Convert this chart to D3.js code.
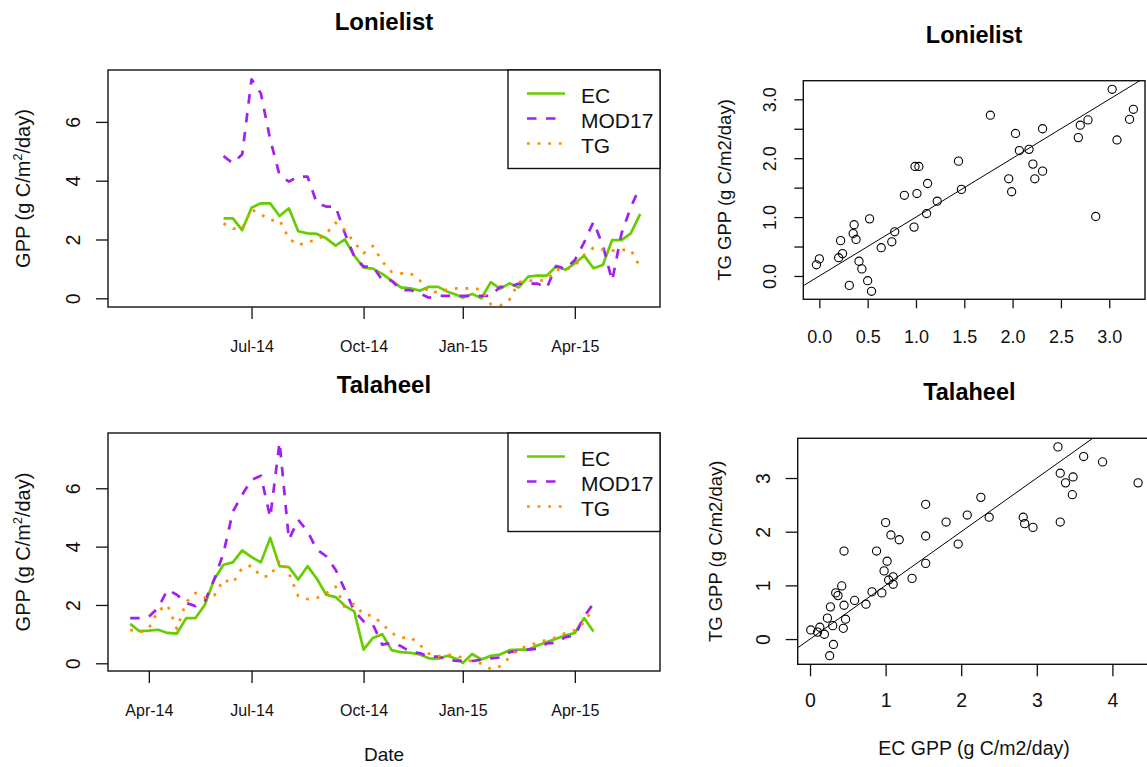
<!DOCTYPE html>
<html>
<head>
<meta charset="utf-8">
<script src="https://cdn.jsdelivr.net/npm/d3@7"></script>
<style>
  body { margin: 0; background: #fff; }
  svg { display: block; }
</style>
</head>
<body>
<script>
// ---- data ----
// 8-day composite dates
let lonDates = ["2014-06-10","2014-06-18","2014-06-26","2014-07-04","2014-07-12","2014-07-20","2014-07-28",
  "2014-08-05","2014-08-13","2014-08-21","2014-08-29","2014-09-06","2014-09-14","2014-09-22","2014-09-30",
  "2014-10-08","2014-10-16","2014-10-24","2014-11-01","2014-11-09","2014-11-17","2014-11-25","2014-12-03",
  "2014-12-11","2014-12-19","2014-12-27","2015-01-01","2015-01-09","2015-01-17","2015-01-25","2015-02-02",
  "2015-02-10","2015-02-18","2015-02-26","2015-03-06","2015-03-14","2015-03-22","2015-03-30","2015-04-07",
  "2015-04-15","2015-04-23","2015-05-01","2015-05-09","2015-05-17","2015-05-25","2015-06-02"];
let lonEC = [2.72,2.72,2.32,3.08,3.23,3.23,2.80,3.06,2.28,2.21,2.19,2.04,1.79,2.00,1.45,1.04,1.01,0.83,0.60,
  0.37,0.34,0.26,0.39,0.39,0.22,0.11,0.02,0.15,0.00,0.55,0.32,0.51,0.37,0.74,0.77,0.77,1.08,0.97,1.19,1.45,
  1.02,1.13,1.98,1.98,2.21,2.87];
let lonMOD17 = [4.84,4.59,4.90,7.45,6.97,5.40,4.19,3.97,4.14,4.14,3.23,3.12,3.12,2.21,1.42,1.08,1.08,0.62,0.60,
  0.28,0.28,0.17,0.02,0.08,0.08,0.08,0.08,0.08,0.08,0.08,0.39,0.39,0.50,0.50,0.50,0.35,1.10,1.00,1.30,1.90,
  2.60,1.80,0.60,2.20,3.10,3.80];
let lonTG = [2.55,2.37,2.38,3.02,2.85,2.66,2.66,2.04,1.80,1.93,1.97,2.20,2.57,2.32,1.90,1.53,1.78,1.25,0.90,
  0.85,0.85,0.62,0.19,0.22,0.30,0.34,0.34,0.34,0.30,-0.20,-0.25,-0.05,0.55,0.60,0.60,0.62,0.97,0.97,1.10,
  1.48,1.72,1.65,1.62,1.65,1.65,1.05];

let talDates = ["2014-03-22","2014-03-30","2014-04-07","2014-04-15","2014-04-23","2014-05-01","2014-05-09",
  "2014-05-17","2014-05-25","2014-06-02","2014-06-10","2014-06-18","2014-06-26","2014-07-04","2014-07-12",
  "2014-07-20","2014-07-28","2014-08-05","2014-08-13","2014-08-21","2014-08-29","2014-09-06","2014-09-14",
  "2014-09-22","2014-09-30","2014-10-08","2014-10-16","2014-10-24","2014-11-01","2014-11-09","2014-11-17",
  "2014-11-25","2014-12-03","2014-12-11","2014-12-19","2014-12-27","2015-01-01","2015-01-09","2015-01-17",
  "2015-01-25","2015-02-02","2015-02-10","2015-02-18","2015-02-26","2015-03-06","2015-03-14","2015-03-22",
  "2015-03-30","2015-04-07","2015-04-15","2015-04-23"];
let talEC = [1.35,1.10,1.12,1.15,1.04,1.02,1.55,1.55,2.01,2.87,3.38,3.46,3.87,3.64,3.46,4.30,3.33,3.30,2.87,
  3.33,2.90,2.35,2.27,1.97,1.78,0.47,0.87,1.00,0.45,0.38,0.36,0.30,0.17,0.16,0.26,0.15,0.01,0.32,0.13,0.26,
  0.30,0.45,0.47,0.47,0.61,0.73,0.84,0.96,1.04,1.55,1.09];
let talMOD17 = [1.55,1.55,1.60,1.90,2.52,2.35,2.07,1.96,2.13,2.87,3.78,5.20,5.78,6.29,6.43,5.00,7.58,4.24,4.92,
  4.52,3.90,3.67,3.21,2.52,1.80,1.44,1.33,0.64,0.70,0.59,0.40,0.35,0.23,0.23,0.12,0.08,0.08,0.08,0.12,0.17,
  0.20,0.38,0.42,0.47,0.50,0.68,0.71,0.90,0.95,1.60,2.05];
let talTG = [1.15,1.05,1.20,1.80,2.00,1.18,2.10,2.41,2.25,2.32,2.87,2.75,3.27,3.35,2.98,2.98,3.55,3.10,2.30,
  2.20,2.24,2.40,2.63,1.90,2.04,1.67,1.63,1.35,1.04,0.87,0.90,0.64,0.33,0.24,0.29,0.26,0.18,0.06,-0.01,-0.20,
  -0.10,0.20,0.51,0.59,0.71,0.80,0.89,1.04,1.13,1.40,1.90];

let seriesNames = ["EC", "MOD17", "TG"];
let lonDateTicks = ["2014-07-04","2014-10-08","2015-01-01","2015-04-07"];
let talDateTicks = ["2014-04-07","2014-07-04","2014-10-08","2015-01-01","2015-04-07"];

// scatter: EC GPP vs TG GPP
let lonScatEC = [-0.03,0.00,0.20,0.24,0.22,0.31,0.35,0.36,0.38,0.41,0.44,0.50,0.52,0.54,0.64,0.75,0.78,0.88,
  0.98,1.01,0.99,1.03,1.11,1.12,1.22,1.44,1.47,1.77,1.96,1.99,2.03,2.07,2.17,2.21,2.23,2.31,2.31,2.68,2.70,
  2.78,2.86,3.03,3.08,3.21,3.25];
let lonScatTG = [0.19,0.29,0.31,0.38,0.60,-0.16,0.72,0.87,0.62,0.25,0.12,-0.08,0.97,-0.26,0.48,0.58,0.75,1.37,
  0.83,1.40,1.86,1.86,1.06,1.57,1.27,1.95,1.47,2.73,1.65,1.43,2.42,2.13,2.15,1.90,1.65,1.78,2.50,2.35,2.56,
  2.65,1.01,3.17,2.31,2.66,2.83];
let talScatEC = [0.01,0.10,0.13,0.19,0.23,0.26,0.27,0.30,0.31,0.34,0.37,0.42,0.44,0.45,0.47,0.45,0.59,0.74,
  0.82,0.88,0.95,0.98,1.00,1.02,1.04,1.07,1.10,1.10,1.18,1.35,1.53,1.53,1.53,1.80,1.96,2.08,2.26,2.37,2.82,
  2.84,2.95,3.28,3.31,3.31,3.38,3.48,3.47,3.62,3.87,4.34];
let talScatTG = [0.17,0.13,0.22,0.09,0.39,-0.31,0.60,0.25,-0.10,0.86,0.81,0.99,0.20,0.63,0.37,1.64,0.72,0.65,
  0.88,1.64,0.86,1.27,2.17,1.45,1.10,1.94,1.16,1.02,1.85,1.13,2.51,1.92,1.41,2.18,1.77,2.31,2.64,2.27,2.27,
  2.15,2.08,3.58,3.09,2.18,2.91,3.02,2.69,3.40,3.30,2.91];
let oneToOne = [0, 1];   // intercept, slope

let lonScatXTicks = [0, 0.5, 1, 1.5, 2, 2.5, 3];
let lonScatYTicks = [0, 0.5, 1, 1.5, 2, 2.5, 3];
let talScatXTicks = [0, 1, 2, 3, 4];
let talScatYTicks = [0, 1, 2, 3];

// ---- drawing ----
let FONT = '"Liberation Sans", Arial, sans-serif';
let INK = "#111";

let svg = d3.select("body").append("svg")
    .attr("width", 1147)
    .attr("height", 767)
    .attr("font-family", FONT);

let parse = d3.utcParse("%Y-%m-%d"),
    fmt = d3.utcFormat("%b-%y");

let x = d3.scaleUtc()
    .domain([parse("2014-03-03"), parse("2015-06-19")])
    .range([108, 660]);

let style = {
  EC:    {color: "#66CD00", dash: null},
  MOD17: {color: "#A020F0", dash: "9.5,9.5"},
  TG:    {color: "#FF8C00", dash: "2.8,7.8"}
};

let clipId = 0;

let addClip = (b) => {
  let id = "clip" + (clipId++);
  svg.append("clipPath").attr("id", id)
    .append("rect")
      .attr("x", b.x0).attr("y", b.y0)
      .attr("width", b.x1 - b.x0).attr("height", b.y1 - b.y0);
  return "url(#" + id + ")";
};

let styleAxis = (g, size) => {
  g.select(".domain").remove();
  g.attr("font-family", FONT).attr("font-size", size);
  g.selectAll(".tick line").attr("stroke", INK).attr("stroke-width", 1.3);
  g.selectAll(".tick text").attr("fill", INK);
};

let bottomAxis = (scale, b, ticks, format, size, tickLen, base) => {
  let g = svg.append("g")
      .attr("transform", "translate(0," + b.y1 + ")")
      .call(d3.axisBottom(scale).tickValues(ticks).tickFormat(format).tickSize(tickLen).tickSizeOuter(0));
  styleAxis(g, size);
  g.selectAll(".tick text").attr("y", base).attr("dy", null);
};

let leftAxis = (scale, b, ticks, format, size, tickLen, off) => {
  let g = svg.append("g")
      .attr("transform", "translate(" + b.x0 + ",0)")
      .call(d3.axisLeft(scale).tickValues(ticks).tickFormat(format).tickSize(tickLen).tickSizeOuter(0));
  styleAxis(g, size);
  g.selectAll(".tick text")
      .attr("x", 0)
      .attr("transform", "translate(" + (-off) + ",0) rotate(-90)")
      .attr("text-anchor", "middle")
      .attr("dy", "0.35em");
};

let yTitle = (parts, cx, cy, size) => {
  let t = svg.append("text")
      .attr("transform", "translate(" + cx + "," + cy + ") rotate(-90)")
      .attr("text-anchor", "middle")
      .attr("dy", "0.35em")
      .attr("font-size", size)
      .attr("fill", INK);
  parts.forEach(p => {
    let s = t.append("tspan").text(p.t);
    if (p.sup) s.attr("font-size", size * 0.62).attr("dy", -size * 0.4);
    if (p.down) s.attr("dy", size * 0.4);
  });
};

let title = (txt, cx, base, size) => {
  svg.append("text")
      .attr("x", cx).attr("y", base)
      .attr("text-anchor", "middle")
      .attr("font-weight", "bold")
      .attr("font-size", size)
      .attr("fill", "#000")
      .text(txt);
};

let frame = (b) => {
  svg.append("rect")
      .attr("x", b.x0).attr("y", b.y0)
      .attr("width", b.x1 - b.x0).attr("height", b.y1 - b.y0)
      .attr("fill", "none").attr("stroke", INK).attr("stroke-width", 1.4);
};

let seriesPanel = (o) => {
  let b = o.box;
  let y = d3.scaleLinear().domain(o.yDomain).range([b.y1, b.y0]);
  let rows = o.dates.map((d, i) => ({date: parse(d), EC: o.EC[i], MOD17: o.MOD17[i], TG: o.TG[i]}));
  let clip = addClip(b);

  seriesNames.forEach(k => {
    svg.append("path")
        .datum(rows)
        .attr("clip-path", clip)
        .attr("fill", "none")
        .attr("stroke", style[k].color)
        .attr("stroke-width", 2.7)
        .attr("stroke-linejoin", "round")
        .attr("stroke-dasharray", style[k].dash)
        .attr("d", d3.line().x(d => x(d.date)).y(d => y(d[k])));
  });

  frame(b);
  bottomAxis(x, b, o.xTicks.map(parse), fmt, 16, 12, 44.7);
  leftAxis(y, b, [0, 2, 4, 6], d3.format("d"), 19.5, 12, 35);
  yTitle([{t: "GPP (g C/m"}, {t: "2", sup: true}, {t: "/day)", down: true}], 23, (b.y0 + b.y1) / 2, 20);
  title(o.title, (b.x0 + b.x1) / 2, b.y0 - 40, 24);

  // legend
  let lx0 = 508, lx1 = b.x1;
  svg.append("rect")
      .attr("x", lx0).attr("y", b.y0)
      .attr("width", lx1 - lx0).attr("height", 98.5)
      .attr("fill", "#fff").attr("stroke", INK).attr("stroke-width", 1.4);
  seriesNames.forEach((k, i) => {
    let ly = b.y0 + 23.5 + 25 * i;
    svg.append("line")
        .attr("x1", 527).attr("x2", 565).attr("y1", ly).attr("y2", ly)
        .attr("stroke", style[k].color)
        .attr("stroke-width", 2.7)
        .attr("stroke-dasharray", style[k].dash);
    svg.append("text")
        .attr("x", 581).attr("y", ly)
        .attr("dy", "0.43em")
        .attr("font-size", 21)
        .attr("fill", INK)
        .text(k);
  });
};

let scatterPanel = (o) => {
  let b = o.box;
  let sx = d3.scaleLinear().domain(o.xDomain).range([b.x0, b.x1]);
  let sy = d3.scaleLinear().domain(o.yDomain).range([b.y1, b.y0]);
  let clip = addClip(b);

  let pts = o.ec.map((v, i) => ({ec: v, tg: o.tg[i]}));
  svg.append("g").selectAll("circle")
      .data(pts)
      .enter().append("circle")
        .attr("cx", d => sx(d.ec))
        .attr("cy", d => sy(d.tg))
        .attr("r", 4.1)
        .attr("fill", "none")
        .attr("stroke", "#000")
        .attr("stroke-width", 1.1);

  let xs = sx.domain();
  svg.append("line")
      .attr("clip-path", clip)
      .attr("x1", sx(xs[0])).attr("y1", sy(oneToOne[0] + oneToOne[1] * xs[0]))
      .attr("x2", sx(xs[1])).attr("y2", sy(oneToOne[0] + oneToOne[1] * xs[1]))
      .attr("stroke", "#000").attr("stroke-width", 1);

  frame(b);
  bottomAxis(sx, b, o.xTicks, o.xFormat, o.font, o.tickLen, o.xBase);
  leftAxis(sy, b, o.yTicks, o.yFormat, o.font, o.tickLen, o.yOff);
  yTitle([{t: "TG GPP (g C/m2/day)"}], o.yTitleX, (b.y0 + b.y1) / 2, 18.5);
  if (o.xTitle) {
    svg.append("text")
        .attr("x", o.xTitle.x).attr("y", o.xTitle.y)
        .attr("text-anchor", "middle")
        .attr("font-size", 19.5)
        .attr("fill", INK)
        .text(o.xTitle.t);
  }
  title(o.title, (b.x0 + Math.min(b.x1, 1147)) / 2 + (b.x1 > 1147 ? -3 : 0), b.y0 - 38, 23.5);
};

seriesPanel({
  title: "Lonielist",
  dates: lonDates, EC: lonEC, MOD17: lonMOD17, TG: lonTG,
  box: {x0: 108, x1: 660, y0: 70, y1: 307},
  yDomain: [-0.296, 7.765],
  xTicks: lonDateTicks
});

seriesPanel({
  title: "Talaheel",
  dates: talDates, EC: talEC, MOD17: talMOD17, TG: talTG,
  box: {x0: 108, x1: 660, y0: 433, y1: 671},
  yDomain: [-0.264, 7.895],
  xTicks: talDateTicks
});

svg.append("text")
    .attr("x", 384).attr("y", 761)
    .attr("text-anchor", "middle")
    .attr("font-size", 19)
    .attr("fill", INK)
    .text("Date");

let f1 = d3.format(".1f");

scatterPanel({
  title: "Lonielist",
  ec: lonScatEC, tg: lonScatTG,
  box: {x0: 803.3, x1: 1145, y0: 80.7, y1: 299.3},
  xDomain: [-0.166, 3.37], yDomain: [-0.396, 3.316],
  xTicks: lonScatXTicks, yTicks: lonScatYTicks,
  xFormat: f1, yFormat: d => (d % 1 === 0 ? f1(d) : ""),
  font: 18, tickLen: 9, xBase: 43.8, yOff: 33.3,
  yTitleX: 725
});

scatterPanel({
  title: "Talaheel",
  ec: talScatEC, tg: talScatTG,
  box: {x0: 797.7, x1: 1151.7, y0: 438.3, y1: 664.3},
  xDomain: [-0.163, 4.52], yDomain: [-0.47, 3.74],
  xTicks: talScatXTicks, yTicks: talScatYTicks,
  xFormat: d3.format("d"), yFormat: d3.format("d"),
  font: 19.5, tickLen: 12, xBase: 43, yOff: 35,
  yTitleX: 716,
  xTitle: {t: "EC GPP (g C/m2/day)", x: 974, y: 755}
});
</script>
</body>
</html>
